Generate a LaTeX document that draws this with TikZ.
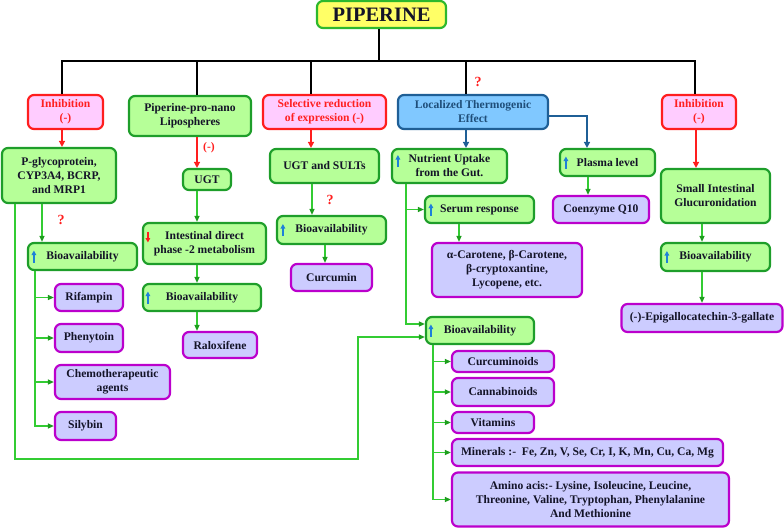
\documentclass[tikz,border=0pt]{standalone}
\usepackage{fontspec}
\setmainfont{Liberation Serif}
\usetikzlibrary{arrows.meta,calc}
\definecolor{gfill}{HTML}{B6FF98}
\definecolor{gdraw}{HTML}{1E9E2A}
\definecolor{pfill}{HTML}{FFCCFF}
\definecolor{pdraw}{HTML}{FF1E1E}
\definecolor{lfill}{HTML}{CCCCFF}
\definecolor{ldraw}{HTML}{BB00CC}
\definecolor{bfill}{HTML}{80C8FF}
\definecolor{bdraw}{HTML}{1F5F96}
\definecolor{yfill}{HTML}{FFFF66}
\definecolor{ydraw}{HTML}{2DB82D}
\definecolor{txt}{HTML}{141428}
\definecolor{rtxt}{HTML}{FF2020}
\definecolor{btxt}{HTML}{1F4E79}
\definecolor{gline}{HTML}{33CC33}
\definecolor{gtip}{HTML}{1E9E1E}
\definecolor{uparrow}{HTML}{1E80D8}
\begin{document}
\begin{tikzpicture}[x=1pt,y=-1pt,
  box/.style={draw, rounded corners=6pt, line width=2.2pt, align=center, inner sep=0pt,
    font=\bfseries\fontsize{11.6}{14}\selectfont, text=txt},
  sz/.style 2 args={minimum width=#1, minimum height=#2},
  gbox/.style={box, fill=gfill, draw=gdraw},
  pbox/.style={box, fill=pfill, draw=pdraw, text=rtxt},
  lbox/.style={box, fill=lfill, draw=ldraw},
  bbox/.style={box, fill=bfill, draw=bdraw, text=btxt},
  ybox/.style={box, fill=yfill, draw=ydraw, font=\bfseries\fontsize{20.5}{22}\selectfont},
  blk/.style={line width=2.4pt, draw=black},
  redarr/.style={line width=2pt, draw=pdraw, -{Triangle[length=6pt,width=6pt]}},
  bluarr/.style={line width=2pt, draw=bdraw, -{Triangle[length=6pt,width=6pt]}},
  garr/.style={line width=1.3pt, draw=gline, -{Triangle[length=6pt,width=5pt,color=gtip]}},
  upb/.style={line width=1.6pt, draw=uparrow, -{Triangle[length=4.5pt,width=4.5pt]}},
  dnr/.style={line width=1.6pt, draw=pdraw, -{Triangle[length=4.5pt,width=4.5pt]}},
  qm/.style={text=rtxt, font=\bfseries\fontsize{14}{16}\selectfont, inner sep=0pt},
]
\useasboundingbox (0,0) rectangle (784,528);

% top
\node[ybox, sz={129pt}{27pt}] (pip) at (381.5,14.5) {PIPERINE};

% level 1
\node[pbox, sz={75pt}{34pt}] (inh1) at (65.5,112) {Inhibition\\(-)};
\node[gbox, sz={122pt}{40pt}] (ppn) at (190,116) {Piperine-pro-nano\\Lipospheres};
\node[pbox, sz={123pt}{34pt}] (sel) at (324.5,112) {Selective reduction\\of expression (-)};
\node[bbox, sz={150pt}{34pt}] (loc) at (473,112) {Localized Thermogenic\\Effect};
\node[pbox, sz={74pt}{34pt}] (inh2) at (699,112) {Inhibition\\(-)};

% level 2
\node[gbox, sz={114pt}{55pt}] (pgp) at (59,175.5) {P-glycoprotein,\\CYP3A4, BCRP,\\and MRP1};
\node[gbox, sz={48pt}{21pt}] (ugt) at (207,179.5) {UGT};
\node[gbox, sz={109pt}{34pt}] (uss) at (324.5,166) {UGT and SULTs};
\node[gbox, sz={115pt}{34pt}] (nut) at (449.5,166) {Nutrient Uptake\\from the Gut.};
\node[gbox, sz={95pt}{27pt}] (pla) at (607.5,162.5) {Plasma level};
\node[gbox, sz={109pt}{54pt}] (sig) at (715.5,196) {Small Intestinal\\Glucuronidation};

% level 3
\node[gbox, sz={109pt}{27pt}] (bio1) at (82.5,256.5) {Bioavailability};
\node[gbox, sz={123pt}{41pt}] (ids) at (204.5,243.5) {Intestinal direct\\phase -2 metabolism};
\node[gbox, sz={109pt}{28pt}] (bio3) at (331.5,230) {Bioavailability};
\node[gbox, sz={109pt}{27pt}] (ser) at (479.5,209.5) {Serum response};
\node[lbox, sz={96pt}{27pt}] (coq) at (601,209.5) {Coenzyme Q10};
\node[gbox, sz={109pt}{28pt}] (bio5) at (715.5,257) {Bioavailability};

% level 4
\node[lbox, sz={68pt}{27pt}] (rif) at (89,297.5) {Rifampin};
\node[gbox, sz={118pt}{27pt}] (bio2) at (202,297.5) {Bioavailability};
\node[lbox, sz={81pt}{27pt}] (cur) at (331.5,277.5) {Curcumin};
\node[lbox, sz={150pt}{54pt}] (car) at (507,270) {α-Carotene, β-Carotene,\\β-cryptoxantine,\\Lycopene, etc.};
\node[lbox, sz={161pt}{28pt}] (egc) at (702,318) {(-)-Epigallocatechin-3-gallate};

\node[lbox, sz={68pt}{28pt}] (phe) at (89,338) {Phenytoin};
\node[lbox, sz={74pt}{26pt}] (ral) at (220,345) {Raloxifene};
\node[gbox, sz={108pt}{27pt}] (bio4) at (480,330.5) {Bioavailability};
\node[lbox, sz={115pt}{34pt}] (chem) at (112.5,382) {Chemotherapeutic\\agents};
\node[lbox, sz={102pt}{21pt}] (curd) at (503,361.5) {Curcuminoids};
\node[lbox, sz={102pt}{28pt}] (can) at (503,392) {Cannabinoids};
\node[lbox, sz={61pt}{28pt}] (sil) at (85.5,426) {Silybin};
\node[lbox, sz={82pt}{21pt}] (vit) at (493,422.5) {Vitamins};
\node[lbox, sz={271pt}{27pt}] (min) at (587.5,452.5) {Minerals :- \ Fe, Zn, V, Se, Cr, I, K, Mn, Cu, Ca, Mg};
\node[lbox, sz={277pt}{54pt}] (ami) at (590.5,499.5) {Amino acis:- Lysine, Isoleucine, Leucine,\\Threonine, Valine, Tryptophan, Phenylalanine\\And Methionine};

% top bus
\coordinate (pt) at (379,61);
\coordinate (b1) at (62,61);
\coordinate (b2) at (197,61);
\coordinate (b3) at (311,61);
\coordinate (b4) at (466,61);
\coordinate (b5) at (695,61);
\draw[blk] (pt |- pip.south) -- (pt);
\draw[blk] (b1 |- inh1.north) -- (b1) -- (b5) -- (b5 |- inh2.north);
\draw[blk] (b2) -- (b2 |- ppn.north);
\draw[blk] (b3) -- (b3 |- sel.north);
\draw[blk] (b4) -- (b4 |- loc.north);

% red / blue arrows
\draw[redarr] (b1 |- inh1.south) -- (b1 |- pgp.north);
\draw[redarr] (b2 |- ppn.south) -- (b2 |- ugt.north);
\node[text=rtxt, font=\bfseries\fontsize{11.6}{13}\selectfont, inner sep=0pt] (m1) at (209,148) {(-)};
\draw[redarr] (b3 |- sel.south) -- (b3 |- uss.north);
\draw[bluarr] (b4 |- loc.south) -- (b4 |- nut.north);
\coordinate (x587) at (587,116);
\draw[bluarr] (x587 -| loc.east) -- (x587) -- (x587 |- pla.north);
\coordinate (x696) at (696,0);
\draw[redarr] (x696 |- inh2.south) -- (x696 |- sig.north);
\node[qm] (q0) at (478,82) {?};

% column 1
\coordinate (x42) at (42,0);
\draw[garr] (x42 |- pgp.south) -- (x42 |- bio1.north);
\node[qm] (q1) at (61,220) {?};
\coordinate (x35) at (35,0);
\draw[garr] (x35 |- bio1.south) -- (x35 |- sil.west) -- (sil.west);
\draw[garr] (x35 |- rif.west) -- (rif.west);
\draw[garr] (x35 |- phe.west) -- (phe.west);
\draw[garr] (x35 |- chem.west) -- (chem.west);
\coordinate (x15) at (15,0);
\coordinate (l1) at (15,459);
\coordinate (l2) at (358,459);
\coordinate (l3) at (358,337);
\draw[garr] (x15 |- pgp.south) -- (l1) -- (l2) -- (l3) -- (l3 -| bio4.west);

% column 2
\coordinate (x197) at (197,0);
\draw[garr] (x197 |- ugt.south) -- (x197 |- ids.north);
\draw[garr] (x197 |- ids.south) -- (x197 |- bio2.north);
\draw[garr] (x197 |- bio2.south) -- (x197 |- ral.north);

% column 3
\coordinate (x312) at (312,0);
\draw[garr] (x312 |- uss.south) -- (x312 |- bio3.north);
\node[qm] (q2) at (330,200) {?};
\coordinate (x325) at (325,0);
\draw[garr] (x325 |- bio3.south) -- (x325 |- cur.north);

% column 4
\coordinate (n1) at (406,324);
\draw[garr] (n1 |- nut.south) -- (n1) -- (n1 -| bio4.west);
\draw[garr] (n1 |- ser.west) -- (ser.west);
\coordinate (x459) at (459,0);
\draw[garr] (x459 |- ser.south) -- (x459 |- car.north);
\coordinate (x588) at (588,0);
\draw[garr] (x588 |- pla.south) -- (x588 |- coq.north);
\coordinate (x433) at (433,0);
\draw[garr] (x433 |- bio4.south) -- (x433 |- ami.west) -- (ami.west);
\draw[garr] (x433 |- curd.west) -- (curd.west);
\draw[garr] (x433 |- can.west) -- (can.west);
\draw[garr] (x433 |- vit.west) -- (vit.west);
\draw[garr] (x433 |- min.west) -- (min.west);

% column 5
\coordinate (x702) at (702,0);
\draw[garr] (x702 |- sig.south) -- (x702 |- bio5.north);
\draw[garr] (x702 |- bio5.south) -- (x702 |- egc.north);

% small arrows inside boxes
\draw[upb] ([shift={(7,6)}]bio1.west) -- ++(0,-12);
\draw[upb] ([shift={(6,6)}]bio2.west) -- ++(0,-12);
\draw[upb] ([shift={(7,6)}]bio3.west) -- ++(0,-12);
\draw[upb] ([shift={(6,6)}]bio4.west) -- ++(0,-12);
\draw[upb] ([shift={(7,6)}]bio5.west) -- ++(0,-12);
\draw[upb] ([shift={(7,6)}]ser.west) -- ++(0,-12);
\draw[upb] ([shift={(7,6)}]pla.west) -- ++(0,-12);
\draw[upb] ([shift={(7,1)}]nut.west) -- ++(0,-12);
\draw[dnr] ([shift={(6,-12)}]ids.west) -- ++(0,11);
\end{tikzpicture}
\end{document}
